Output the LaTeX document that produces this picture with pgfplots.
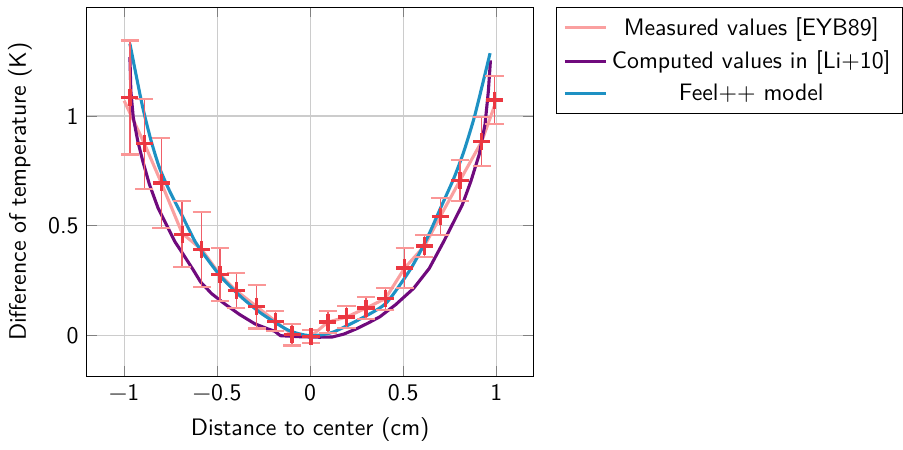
\documentclass[border=0pt]{standalone}
\usepackage{pgfplots}
\pgfplotsset{compat=1.18}
\renewcommand{\familydefault}{\sfdefault}
\definecolor{mpink}{RGB}{250,160,160}
\definecolor{mred}{RGB}{235,55,65}
\definecolor{ebar}{RGB}{240,95,105}
\definecolor{ecap}{RGB}{250,150,150}
\definecolor{mpurple}{RGB}{112,10,125}
\definecolor{mblue}{RGB}{30,145,195}
\begin{document}
\begin{tikzpicture}
\begin{axis}[
  scale only axis,
  width=187.5pt, height=155pt,
  xmin=-1.2, xmax=1.2, ymin=-0.187, ymax=1.497,
  xtick={-1,-0.5,0,0.5,1},
  xticklabels={−1,−0.5,0,0.5,1},
  ytick={0,0.5,1},
  yticklabels={0,0.5,1},
  grid=major,
  grid style={gray!40, line width=0.5pt},
  xlabel={Distance to center (cm)},
  ylabel={Difference of temperature (K)},
  legend style={at={(1.05,1)}, anchor=north west, draw=black, font=\sffamily, row sep=1pt},
  legend cell align=center,
]
\addplot[mpink, line width=1.3pt] coordinates {
(-1.000,1.070) (-0.891,0.874) (-0.800,0.695) (-0.688,0.465) (-0.583,0.391)
(-0.485,0.277) (-0.397,0.203) (-0.288,0.131) (-0.187,0.064) (-0.097,0.003)
(0.004,-0.005) (0.095,0.060) (0.195,0.083) (0.300,0.124) (0.404,0.167)
(0.508,0.307) (0.614,0.407) (0.700,0.543) (0.805,0.706) (0.922,0.884) (0.991,1.047)
};
\addlegendentry{Measured values [EYB89]}
\addplot[mpurple, line width=1.3pt] coordinates {
(-0.969,1.269) (-0.964,1.116) (-0.951,0.994) (-0.927,0.887) (-0.900,0.795)
(-0.864,0.688) (-0.818,0.581) (-0.773,0.505) (-0.728,0.428) (-0.680,0.366)
(-0.630,0.300) (-0.589,0.243) (-0.530,0.190) (-0.461,0.144) (-0.380,0.095)
(-0.297,0.052) (-0.230,0.030) (-0.190,0.018) (-0.160,-0.002)
(-0.050,-0.007) (0.050,-0.009) (0.118,-0.008) (0.180,0.005) (0.250,0.030) (0.310,0.055) (0.374,0.084)
(0.460,0.140) (0.556,0.214) (0.640,0.305) (0.718,0.428) (0.764,0.505) (0.818,0.596)
(0.864,0.703) (0.909,0.826) (0.940,0.963) (0.958,1.116) (0.969,1.254)
};
\addlegendentry{Computed values in [Li$+$10]}
\addplot[mblue, line width=1.3pt, smooth, tension=0.4] coordinates {
(-0.969,1.330) (-0.937,1.193) (-0.900,1.039) (-0.855,0.887) (-0.810,0.764)
(-0.755,0.657) (-0.691,0.550) (-0.619,0.428) (-0.589,0.389) (-0.479,0.266)
(-0.370,0.174) (-0.260,0.098) (-0.115,0.022) (0.000,-0.002) (0.122,0.014)
(0.304,0.090) (0.413,0.151) (0.541,0.304) (0.627,0.440) (0.709,0.596)
(0.773,0.718) (0.827,0.841) (0.882,0.994) (0.927,1.147) (0.967,1.287)
};
\addlegendentry{Feel$++$ model}
\addplot[forget plot, only marks, mark=+, mark size=3.6pt,
  mark options={line width=1.4pt, color=mred},
  error bars/.cd, y dir=both, y explicit,
  error mark=-,
  error bar style={color=ebar, line width=0.6pt},
  error mark options={rotate=90, color=ecap, mark size=3.8pt, line width=0.9pt}]
coordinates {
(-0.969,1.085) +- (0,0.26)
(-0.891,0.874) +- (0,0.205)
(-0.800,0.695) +- (0,0.205)
(-0.688,0.461) +- (0,0.15)
(-0.583,0.391) +- (0,0.17)
(-0.485,0.277) +- (0,0.12)
(-0.397,0.203) +- (0,0.08)
(-0.288,0.131) +- (0,0.10)
(-0.187,0.064) +- (0,0.045)
(-0.097,0.003) +- (0,0.05)
(0.004,-0.005) +- (0,0.03)
(0.095,0.060) +- (0,0.05)
(0.195,0.083) +- (0,0.05)
(0.300,0.124) +- (0,0.05)
(0.404,0.167) +- (0,0.05)
(0.508,0.307) +- (0,0.09)
(0.614,0.407) +- (0,0.05)
(0.700,0.543) +- (0,0.084)
(0.805,0.706) +- (0,0.092)
(0.922,0.884) +- (0,0.11)
(0.991,1.073) +- (0,0.11)
};
\end{axis}
\path ([yshift=3pt]current axis.north west);
\end{tikzpicture}
\end{document}
